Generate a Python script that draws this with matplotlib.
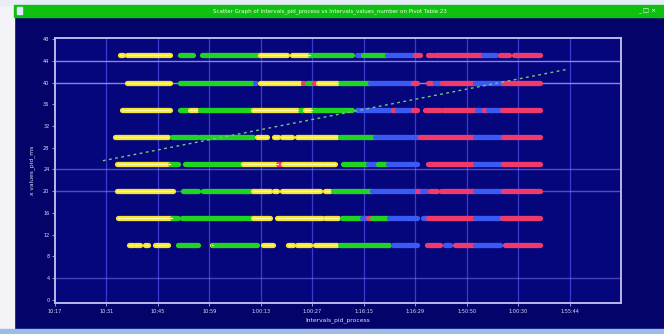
import matplotlib
matplotlib.use('Agg')
import matplotlib.pyplot as plt
from matplotlib.patches import Rectangle

# ── data ────────────────────────────────────────────────────────────────────
# each process row: (start, end, state) along the interval axis
pids = [45, 40, 35, 30, 25, 20, 15, 10]

row_45 = [(12.6, 13.2, 'Y'), (14.0, 22.3, 'Y'), (24.3, 26.8, 'G'), (28.5, 39.8, 'G'),
          (39.8, 45.0, 'Y'), (46.0, 49.5, 'Y'), (49.5, 57.7, 'G'), (58.6, 59.6, 'B'),
          (59.8, 64.5, 'G'), (64.5, 69.9, 'B'), (69.9, 70.9, 'R'), (72.4, 73.2, 'R'),
          (73.8, 83.1, 'R'), (83.1, 85.8, 'B'), (86.4, 88.3, 'R'), (89.3, 94.2, 'R')]
row_40 = [(14.0, 22.3, 'Y'), (24.3, 38.4, 'G'), (38.8, 39.0, 'B'), (39.8, 47.6, 'Y'),
          (48.2, 48.3, 'R'), (48.9, 50.1, 'G'), (50.3, 50.9, 'R'), (51.1, 55.0, 'Y'),
          (55.3, 61.2, 'G'), (61.2, 69.5, 'B'), (69.5, 70.3, 'R'), (72.4, 73.2, 'R'),
          (73.8, 75.1, 'B'), (75.3, 81.6, 'R'), (81.6, 86.8, 'B'), (87.0, 94.2, 'R')]
row_35 = [(13.0, 22.3, 'Y'), (24.3, 26.2, 'G'), (26.2, 27.6, 'Y'), (28.2, 38.4, 'G'),
          (38.4, 47.2, 'Y'), (47.6, 48.3, 'G'), (48.5, 49.9, 'Y'), (50.1, 57.7, 'G'),
          (58.6, 65.6, 'B'), (65.6, 66.4, 'R'), (66.4, 69.5, 'B'), (69.5, 70.3, 'R'),
          (72.0, 74.8, 'R'), (75.5, 82.0, 'R'), (82.1, 83.1, 'B'), (83.3, 83.9, 'R'),
          (84.1, 86.8, 'B'), (86.8, 94.2, 'R')]
row_30 = [(11.7, 21.9, 'Y'), (22.7, 27.6, 'G'), (28.2, 38.4, 'G'), (39.2, 41.2, 'Y'),
          (42.5, 43.3, 'Y'), (44.1, 46.0, 'Y'), (47.0, 54.8, 'Y'), (55.3, 62.1, 'G'),
          (62.1, 70.5, 'B'), (70.9, 81.6, 'R'), (81.6, 86.8, 'B'), (87.0, 94.2, 'R')]
row_25 = [(12.0, 22.3, 'Y'), (22.3, 23.9, 'G'), (25.2, 36.5, 'G'), (36.5, 43.3, 'Y'),
          (43.3, 44.3, 'R'), (44.3, 51.8, 'Y'), (52.0, 54.4, 'Y'), (55.9, 60.8, 'G'),
          (60.8, 62.7, 'B'), (62.7, 64.7, 'G'), (64.7, 70.3, 'B'), (72.4, 81.6, 'R'),
          (81.6, 86.8, 'B'), (87.0, 94.2, 'R')]
row_20 = [(12.0, 22.9, 'Y'), (24.9, 27.8, 'G'), (28.7, 38.4, 'G'), (38.4, 41.7, 'Y'),
          (42.5, 43.1, 'Y'), (44.1, 51.5, 'Y'), (52.4, 53.4, 'Y'), (54.0, 61.6, 'G'),
          (61.6, 70.3, 'B'), (70.3, 71.3, 'R'), (71.3, 72.2, 'B'), (72.8, 74.2, 'R'),
          (75.1, 81.6, 'R'), (81.6, 86.8, 'B'), (87.0, 94.2, 'R')]
row_15 = [(12.2, 22.7, 'Y'), (22.7, 23.9, 'G'), (24.7, 38.4, 'G'), (38.4, 41.7, 'Y'),
          (43.1, 51.8, 'Y'), (52.4, 55.0, 'Y'), (55.7, 59.6, 'G'), (59.6, 60.8, 'B'),
          (60.8, 61.7, 'R'), (61.7, 64.7, 'G'), (65.0, 70.3, 'B'), (71.5, 72.4, 'B'),
          (72.4, 81.6, 'R'), (81.6, 86.4, 'B'), (86.8, 94.2, 'R')]
row_10 = [(14.4, 15.1, 'Y'), (15.5, 16.5, 'Y'), (17.5, 18.1, 'Y'), (19.4, 21.9, 'Y'),
          (23.9, 27.8, 'G'), (30.5, 30.7, 'Y'), (30.7, 39.2, 'G'), (40.4, 42.3, 'Y'),
          (45.2, 46.2, 'Y'), (47.0, 49.5, 'Y'), (50.5, 54.8, 'Y'), (55.3, 65.0, 'G'),
          (65.6, 70.3, 'B'), (72.2, 74.8, 'R'), (75.7, 76.7, 'B'), (77.7, 81.6, 'R'),
          (81.6, 86.4, 'B'), (87.4, 94.2, 'R')]

rows = [row_45, row_40, row_35, row_30, row_25, row_20, row_15, row_10]

trend_x = [9.3, 99.4]
trend_y = [25.6, 42.4]

x_ticks = [0, 10, 20, 30, 40, 50, 60, 70, 80, 90, 100]
x_labels = ['10:17', '10:31', '10:45', '10:59', '1:00:13', '1:00:27',
            '1:16:15', '1:16:29', '1:50:50', '1:00:30', '1:55:44']
y_ticks = list(range(0, 49, 4))
y_major = [4, 20, 24, 40, 44]
y_major_alpha = [0.45, 0.55, 0.55, 0.95, 0.95]

TITLE = 'Scatter Graph of Intervals_pid_process vs Intervals_values_number on Pivot Table 23'

STATE_COLORS = {
    'Y': '#f4e62c',
    'G': '#22d422',
    'B': '#3b5af4',
    'R': '#f03a6c',
}

NAVY = '#03036a'
PLOT_BG = '#06067c'

# ── figure ──────────────────────────────────────────────────────────────────
fig = plt.figure(figsize=(6.64, 3.34), dpi=100, facecolor=NAVY)

# window chrome
fig.patches.append(Rectangle((0, 0), 14 / 664, 1, transform=fig.transFigure,
                             color='#f4f4f8', zorder=0))
fig.patches.append(Rectangle((0, 1 - 5 / 334), 1, 5 / 334, transform=fig.transFigure,
                             color='#e8eef8', zorder=0))
fig.patches.append(Rectangle((14 / 664, 1 - 17 / 334), 650 / 664, 12 / 334,
                             transform=fig.transFigure, color='#10c010', zorder=1))
fig.patches.append(Rectangle((0, 0), 1, 5 / 334, transform=fig.transFigure,
                             color='#9cbce8', zorder=1))
fig.patches.append(Rectangle((17 / 664, 1 - 14 / 334), 5 / 664, 7 / 334,
                             transform=fig.transFigure, color='#e0e8ff', zorder=2))
fig.text(0.497, 1 - 11 / 334, TITLE, color='#e8ffe8', fontsize=4.0,
         ha='center', va='center')
fig.text(0.975, 1 - 11 / 334, '_ \u25a1 \u00d7', color='white', fontsize=4.5,
         ha='center', va='center')

ax = fig.add_axes([55 / 664, 1 - 303 / 334, 566 / 664, 265 / 334])
ax.set_facecolor(PLOT_BG)

# grid
for xv in x_ticks[1:]:
    ax.axvline(xv, color='#3a3ad0', lw=0.9, zorder=1)
for yv, a in zip(y_major, y_major_alpha):
    ax.axhline(yv, color='#8c8cf0', lw=1.0, alpha=a, zorder=1)

# process rows
for pid, segs in zip(pids, rows):
    for x0, x1, st in segs:
        ax.plot([x0, x1], [pid, pid], color=STATE_COLORS[st], lw=3.8,
                solid_capstyle='round', zorder=3)
        if st == 'Y':
            ax.plot([x0, x1], [pid, pid], color='#fff8b0', lw=1.0,
                    solid_capstyle='round', zorder=4)

# trend line
ax.plot(trend_x, trend_y, color='#78c878', lw=1.0, ls=(0, (2, 2.5)), zorder=5)

ax.set_xlim(0, 110)
ax.set_ylim(-0.6, 48.2)
ax.set_xticks(x_ticks)
ax.set_xticklabels(x_labels)
ax.set_yticks(y_ticks)
ax.set_yticklabels([str(v) for v in y_ticks])
ax.tick_params(colors='#b0b0e8', labelcolor='#dcdcf8', labelsize=3.6,
               length=2, width=0.6, pad=2)
for sp in ax.spines.values():
    sp.set_color('#b8b8e8')
    sp.set_linewidth(1.4)

ax.set_xlabel('Intervals_pid_process', color='#e0e0f8', fontsize=4.3, labelpad=3)
ax.set_ylabel('x values_pid_ms', color='#e0e0f8', fontsize=4.3, labelpad=6)

fig.savefig('out.png', dpi=100, facecolor=fig.get_facecolor())
